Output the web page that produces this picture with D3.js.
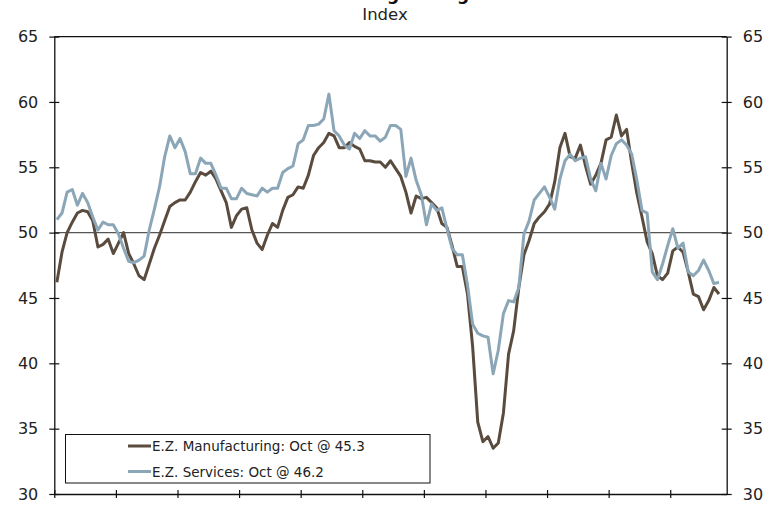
<!DOCTYPE html>
<html>
<head>
<meta charset="utf-8">
<script src="https://cdn.jsdelivr.net/npm/d3@7"></script>
<style>
  body { margin: 0; background: #fff; }
  svg { display: block; font-family: "DejaVu Sans", Verdana, sans-serif; }
</style>
</head>
<body>
<svg id="chart" width="776" height="506"></svg>
<script>
// monthly PMI readings, Jan 2002 .. Oct 2012
var manufacturing = [
  46.2, 48.5, 50.0, 50.8, 51.5, 51.7, 51.6, 50.9, 48.9, 49.1, 49.5, 48.4,
  49.2, 50.0, 48.4, 47.6, 46.7, 46.4, 47.6, 48.8, 49.8, 50.9, 52.0, 52.3,
  52.5, 52.5, 53.1, 53.9, 54.6, 54.4, 54.7, 54.1, 53.2, 52.3, 50.4, 51.3,
  51.8, 51.9, 50.2, 49.2, 48.7, 49.8, 50.7, 50.4, 51.7, 52.7, 52.9, 53.5,
  53.4, 54.4, 55.9, 56.5, 56.9, 57.6, 57.4, 56.5, 56.5, 56.9, 56.6, 56.4,
  55.5, 55.5, 55.4, 55.4, 55.0, 55.5, 54.9, 54.3, 53.1, 51.5, 52.8, 52.6,
  52.7, 52.3, 51.9, 50.7, 50.4, 49.0, 47.4, 47.4, 45.3, 41.3, 35.5, 34.0,
  34.4, 33.5, 33.9, 36.2, 40.7, 42.5, 45.8, 48.3, 49.4, 50.7, 51.2, 51.6,
  52.2, 53.9, 56.5, 57.6, 55.8, 55.7, 56.7, 55.1, 53.7, 54.4, 55.3, 57.1,
  57.3, 59.0, 57.4, 57.9, 55.3, 53.0, 51.2, 49.3, 48.4, 46.7, 46.4, 46.9,
  48.6, 48.9, 48.5, 47.0, 45.3, 45.1, 44.1, 44.8, 45.8, 45.3
];
var services = [
  51.0, 51.5, 53.1, 53.3, 52.1, 53.0, 52.3, 51.2, 50.2, 50.8, 50.6, 50.6,
  49.9, 48.8, 47.8, 47.7, 47.9, 48.2, 50.2, 51.8, 53.5, 55.8, 57.4, 56.5,
  57.2, 56.2, 54.5, 54.5, 55.7, 55.3, 55.3, 54.4, 53.4, 53.4, 52.6, 52.6,
  53.4, 53.0, 52.9, 52.8, 53.4, 53.1, 53.4, 53.4, 54.6, 54.9, 55.1, 56.8,
  57.1, 58.2, 58.2, 58.3, 58.7, 60.6, 57.8, 57.4, 56.7, 56.4, 57.6, 57.2,
  57.8, 57.4, 57.4, 57.0, 57.3, 58.2, 58.2, 57.9, 54.3, 55.7, 54.0, 52.9,
  50.6, 52.2, 51.7, 51.9, 50.3, 48.8, 48.3, 48.3, 46.0, 43.0, 42.3, 42.1,
  42.0, 39.2, 41.0, 43.8, 44.8, 44.7, 45.8, 49.9, 50.9, 52.5, 53.0, 53.5,
  52.7, 51.8, 54.1, 55.5, 56.0, 55.5, 55.7, 55.8, 54.1, 53.2, 55.3, 54.1,
  55.9, 56.8, 57.1, 56.7, 56.0, 54.0, 51.7, 51.5, 47.0, 46.4, 47.6, 49.0,
  50.3, 48.8, 49.2, 47.0, 46.7, 47.1, 47.9, 47.1, 46.1, 46.2
];
var seriesNames = ["E.Z. Manufacturing: Oct @ 45.3", "E.Z. Services: Oct @ 46.2"];
var seriesColors = ["#5a4b3f", "#8ba6b6"];
var yTicks = [30, 35, 40, 45, 50, 55, 60, 65];
// one tick per year, on the boundary between December and January
var yearTicks = d3.range(0, 11).map(function(k) { return k * 12 - 0.5; });

var svg = d3.select("#chart");
var plotLeft = 54.3, plotRight = 726.7, plotTop = 36.6, plotBottom = 494;

var x = d3.scaleLinear().domain([-0.5, 130.5]).range([plotLeft, plotRight]);
var y = d3.scaleLinear().domain([30, 65]).range([plotBottom, plotTop]);

// title (cut off at the top edge in the original, only descenders show) and subtitle
svg.append("text")
  .attr("x", 388).attr("y", -0.5)
  .attr("text-anchor", "middle")
  .attr("font-size", 17).attr("font-weight", "bold")
  .attr("fill", "#111")
  .text("Eurozone Purchasing Managers' Indices");
svg.append("text")
  .attr("x", 385).attr("y", 20)
  .attr("text-anchor", "middle")
  .attr("font-size", 16.5)
  .attr("fill", "#222")
  .text("Index");

// frame top line
svg.append("line")
  .attr("x1", plotLeft).attr("x2", plotRight)
  .attr("y1", plotTop).attr("y2", plotTop)
  .attr("stroke", "#111").attr("stroke-width", 1.3);

// 50 reference line
svg.append("line")
  .attr("x1", plotLeft).attr("x2", plotRight)
  .attr("y1", y(50)).attr("y2", y(50))
  .attr("stroke", "#555").attr("stroke-width", 1.2);

function styleAxis(g, crossing) {
  g.select(".domain").attr("stroke", "#111").attr("stroke-width", 1.3);
  g.selectAll(".tick line").attr("stroke", "#111").attr("stroke-width", 1.2);
  g.selectAll(".tick text").attr("fill", "#222").attr("font-size", 16)
    .attr("font-family", "DejaVu Sans, Verdana, sans-serif");
  crossing(g.selectAll(".tick line"));
}

var yLeft = svg.append("g").attr("transform", "translate(" + plotLeft + ",0)")
  .call(d3.axisLeft(y).tickValues(yTicks).tickSize(5).tickPadding(11).tickSizeOuter(0));
styleAxis(yLeft, function(t) { t.attr("x1", 5); });

var yRight = svg.append("g").attr("transform", "translate(" + plotRight + ",0)")
  .call(d3.axisRight(y).tickValues(yTicks).tickSize(5).tickPadding(11).tickSizeOuter(0));
styleAxis(yRight, function(t) { t.attr("x1", -5); });

var xAxis = svg.append("g").attr("transform", "translate(0," + plotBottom + ")")
  .call(d3.axisBottom(x).tickValues(yearTicks).tickFormat("").tickSize(4).tickSizeOuter(0));
styleAxis(xAxis, function(t) { t.attr("y1", -4); });

// series lines
var line = d3.line()
  .x(function(d, i) { return x(i); })
  .y(function(d) { return y(d); });

[manufacturing, services].forEach(function(s, k) {
  svg.append("path")
    .datum(s)
    .attr("fill", "none")
    .attr("stroke", seriesColors[k])
    .attr("stroke-width", 3)
    .attr("stroke-linejoin", "round")
    .attr("d", line);
});

// legend
var legend = svg.append("g");
legend.append("rect")
  .attr("x", 65.5).attr("y", 434.5)
  .attr("width", 364.5).attr("height", 48.5)
  .attr("fill", "#fff").attr("stroke", "#111").attr("stroke-width", 1);
seriesNames.forEach(function(name, k) {
  var ly = 446 + k * 25.5;
  legend.append("line")
    .attr("x1", 128).attr("x2", 151)
    .attr("y1", ly).attr("y2", ly)
    .attr("stroke", seriesColors[k]).attr("stroke-width", 3);
  legend.append("text")
    .attr("x", 152).attr("y", ly + 5)
    .attr("font-size", 13.5).attr("fill", "#222")
    .text(name);
});
</script>
</body>
</html>
